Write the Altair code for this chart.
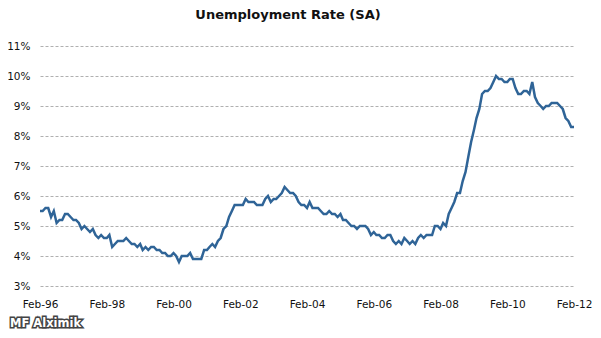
import altair as alt
import pandas as pd

# Monthly unemployment rate (%), Feb 1996 .. Feb 2012
rate = [
    5.5, 5.5, 5.6, 5.6, 5.3, 5.5, 5.1, 5.2, 5.2, 5.4, 5.4,            # 1996 Feb-Dec
    5.3, 5.2, 5.2, 5.1, 4.9, 5.0, 4.9, 4.8, 4.9, 4.7, 4.6, 4.7,       # 1997
    4.6, 4.6, 4.7, 4.3, 4.4, 4.5, 4.5, 4.5, 4.6, 4.5, 4.4, 4.4,       # 1998
    4.3, 4.4, 4.2, 4.3, 4.2, 4.3, 4.3, 4.2, 4.2, 4.1, 4.1, 4.0,       # 1999
    4.0, 4.1, 4.0, 3.8, 4.0, 4.0, 4.0, 4.1, 3.9, 3.9, 3.9, 3.9,       # 2000
    4.2, 4.2, 4.3, 4.4, 4.3, 4.5, 4.6, 4.9, 5.0, 5.3, 5.5, 5.7,       # 2001
    5.7, 5.7, 5.7, 5.9, 5.8, 5.8, 5.8, 5.7, 5.7, 5.7, 5.9, 6.0,       # 2002
    5.8, 5.9, 5.9, 6.0, 6.1, 6.3, 6.2, 6.1, 6.1, 6.0, 5.8, 5.7,       # 2003
    5.7, 5.6, 5.8, 5.6, 5.6, 5.6, 5.5, 5.4, 5.4, 5.5, 5.4, 5.4,       # 2004
    5.3, 5.4, 5.2, 5.2, 5.1, 5.0, 5.0, 4.9, 5.0, 5.0, 5.0, 4.9,       # 2005
    4.7, 4.8, 4.7, 4.7, 4.6, 4.6, 4.7, 4.7, 4.5, 4.4, 4.5, 4.4,       # 2006
    4.6, 4.5, 4.4, 4.5, 4.4, 4.6, 4.7, 4.6, 4.7, 4.7, 4.7, 5.0,       # 2007
    5.0, 4.9, 5.1, 5.0, 5.4, 5.6, 5.8, 6.1, 6.1, 6.5, 6.8, 7.3,       # 2008
    7.8, 8.2, 8.6, 8.9, 9.4, 9.5, 9.5, 9.6, 9.8, 10.0, 9.9, 9.9,      # 2009
    9.8, 9.8, 9.9, 9.9, 9.6, 9.4, 9.4, 9.5, 9.5, 9.4, 9.8, 9.3,       # 2010
    9.1, 9.0, 8.9, 9.0, 9.0, 9.1, 9.1, 9.1, 9.0, 8.9, 8.6, 8.5,       # 2011
    8.3, 8.3,                                                         # 2012 Jan-Feb
]
months = pd.date_range("1996-02-01", periods=len(rate), freq="MS")

x_tick_years = [1996, 1998, 2000, 2002, 2004, 2006, 2008, 2010, 2012]
y_ticks = [3, 4, 5, 6, 7, 8, 9, 10, 11]

df = pd.DataFrame({"month": months, "rate": rate})

W, H = 534, 240
FONT = "DejaVu Sans"

x_vals = [alt.DateTime(year=y, month=2, date=1) for y in x_tick_years]

line = alt.Chart(df).mark_line(color="#2f6497", strokeWidth=2.5).encode(
    x=alt.X(
        "month:T",
        scale=alt.Scale(domain=[alt.DateTime(year=1996, month=2, date=1),
                                alt.DateTime(year=2012, month=2, date=1)]),
        axis=alt.Axis(values=x_vals, format="%b-%y", title=None, grid=False,
                      domain=False, ticks=False, labelPadding=13,
                      labelFont=FONT, labelFontSize=10.5, labelColor="#111",
                      labelOverlap=False, labelFlush=False),
    ),
    y=alt.Y(
        "rate:Q",
        scale=alt.Scale(domain=[3, 11], nice=False),
        axis=alt.Axis(values=y_ticks, labelExpr="datum.value + '%'", title=None,
                      domain=False, ticks=False, labelPadding=10,
                      labelFont=FONT, labelFontSize=10.5, labelColor="#111",
                      grid=True, gridColor="#b0b0b0", gridDash=[3, 2],
                      gridWidth=1),
    ),
)

logo_df = pd.DataFrame({"t": ["MF Alximik"]})
logo_back = alt.Chart(logo_df).mark_text(
    font=FONT, fontSize=11.5, fontWeight="bold", align="left", baseline="middle",
    fill="#444", stroke="#444", strokeWidth=3,
).encode(x=alt.value(-30), y=alt.value(H + 38), text="t:N")
logo_front = alt.Chart(logo_df).mark_text(
    font=FONT, fontSize=11.5, fontWeight="bold", align="left", baseline="middle",
    fill="#ffffff",
).encode(x=alt.value(-30), y=alt.value(H + 38), text="t:N")

chart = alt.layer(line, logo_back, logo_front).properties(
    width=W, height=H,
    title=alt.TitleParams("Unemployment Rate (SA)", font=FONT, fontSize=13,
                          fontWeight="bold", color="#111", anchor="middle",
                          dx=-19, offset=19),
    autosize=alt.AutoSizeParams(type="none"),
    padding={"left": 32, "top": 38, "right": 19, "bottom": 44},
).configure_view(stroke=None)

chart.save("out.html", embed_options={"renderer": "svg", "actions": False})
